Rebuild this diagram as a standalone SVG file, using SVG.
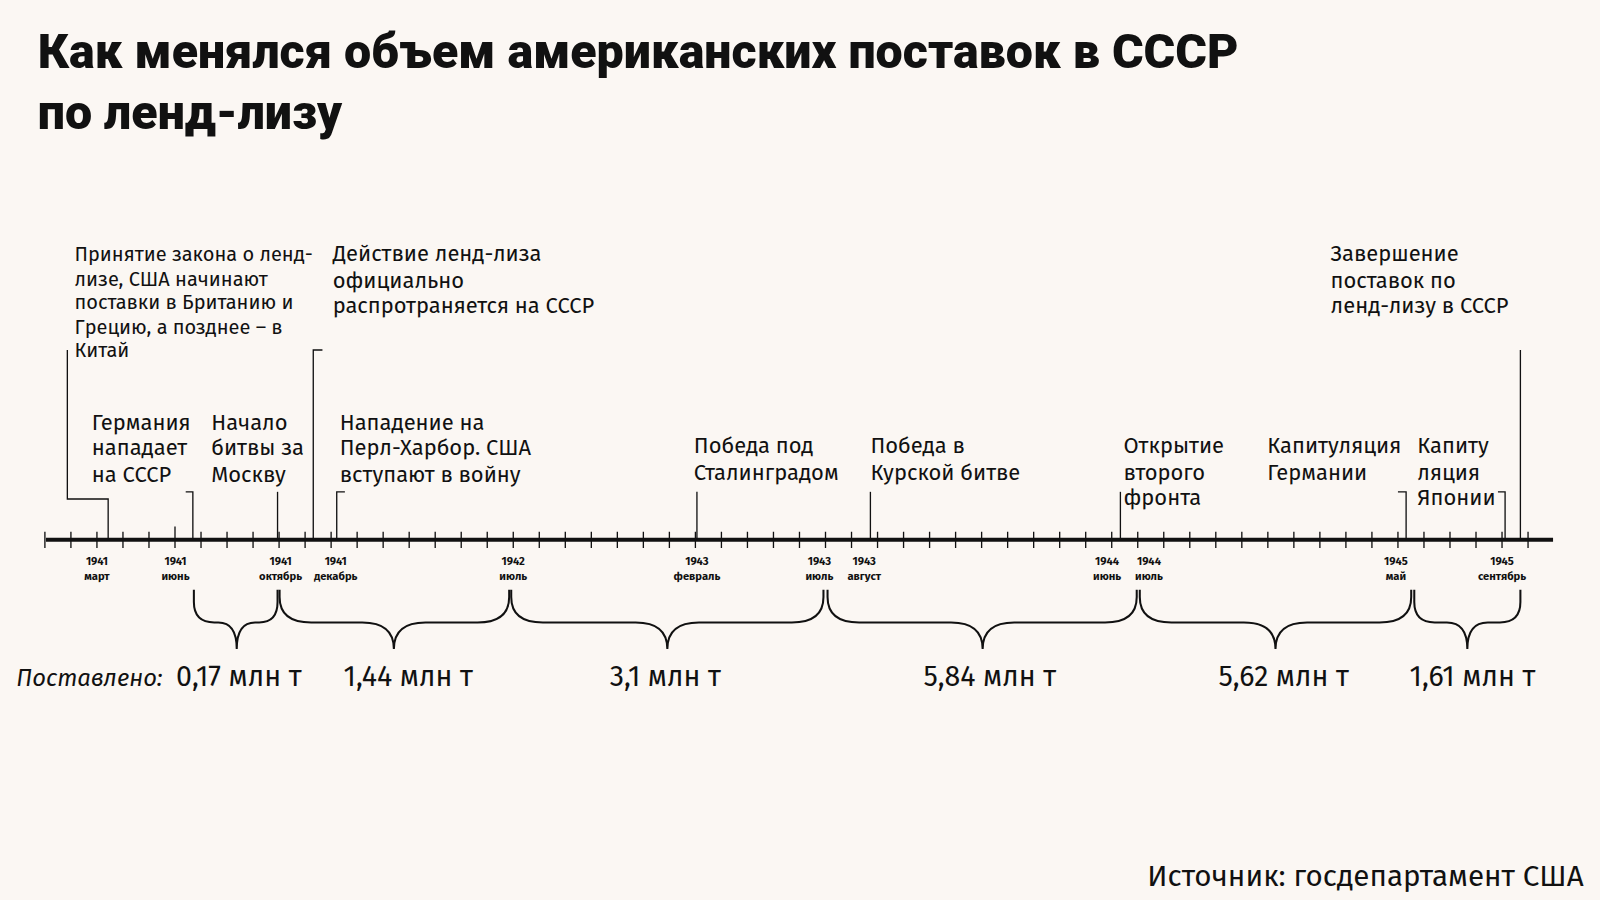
<svg xmlns="http://www.w3.org/2000/svg" width="1600" height="900" viewBox="0 0 1600 900">
<style>
.t{font-family:"Fira Sans","Noto Sans","Open Sans",sans-serif;fill:#111}
.ev{font-size:21.5px}
.sm{font-size:19.6px}
.ax{font-size:11px;font-weight:bold;text-anchor:middle}
.am{font-size:28px;text-anchor:middle}
.ln{stroke:#111;stroke-width:1.3;fill:none}
.br{stroke:#111;stroke-width:2;fill:none}
</style>
<rect width="1600" height="900" fill="#fbf7f3"/>
<g transform="scale(1.0204)">
<g id="title" class="t" style="font-family:Roboto,'Noto Sans',sans-serif;font-weight:900;font-size:47.4px">
<text x="37" y="67">Как менялся объем американских поставок в СССР</text>
<text x="37" y="126">по ленд-лизу</text>
</g>
<g id="axis">
<line x1="45" y1="529" x2="1522" y2="529" stroke="#111" stroke-width="4"/>
<path class="ln" d="M44,521V537M69.5,521V537M95,521V537M120.5,521V537M146,521V537M171.5,516V537M197,521V537M222.5,521V537M248,521V537M273.5,521V537M299,521V537M324.5,521V537M350,521V537M375.5,521V537M401,521V537M426.5,521V537M452,521V537M477.5,521V537M503,521V537M528.5,521V537M554,521V537M579.5,521V537M605,521V537M630.5,521V537M656,521V537M681.5,521V537M707,521V537M732.5,521V537M758,521V537M783.5,521V537M809,521V537M834.5,521V537M860,521V537M885.5,521V537M911,521V537M936.5,521V537M962,521V537M987.5,521V537M1013,521V537M1038.5,521V537M1064,521V537M1089.5,521V537M1115,521V537M1140.5,521V537M1166,521V537M1191.5,521V537M1217,521V537M1242.5,521V537M1268,521V537M1293.5,521V537M1319,521V537M1344.5,521V537M1370,521V537M1395.5,521V537M1421,521V537M1446.5,521V537M1472,521V537M1497.5,521V537"/>
<g class="t ax">
<text x="95" y="554">1941</text><text x="95" y="568">март</text>
<text x="172" y="554">1941</text><text x="172" y="568">июнь</text>
<text x="275" y="554">1941</text><text x="275" y="568">октябрь</text>
<text x="329" y="554">1941</text><text x="329" y="568">декабрь</text>
<text x="503" y="554">1942</text><text x="503" y="568">июль</text>
<text x="683" y="554">1943</text><text x="683" y="568">февраль</text>
<text x="803" y="554">1943</text><text x="803" y="568">июль</text>
<text x="847" y="554">1943</text><text x="847" y="568">август</text>
<text x="1085" y="554">1944</text><text x="1085" y="568">июнь</text>
<text x="1126" y="554">1944</text><text x="1126" y="568">июль</text>
<text x="1368" y="554">1945</text><text x="1368" y="568">май</text>
<text x="1472" y="554">1945</text><text x="1472" y="568">сентябрь</text>
</g>
</g>
<g id="connectors">
<path class="ln" d="M66,343V489H106V529"/>
<path class="ln" d="M182,482H189V529"/>
<path class="ln" d="M272,482V529"/>
<path class="ln" d="M316,343H307V529"/>
<path class="ln" d="M338,482H330V529"/>
<path class="ln" d="M683,482V529"/>
<path class="ln" d="M853,482V529"/>
<path class="ln" d="M1098,482V529"/>
<path class="ln" d="M1370,482H1378V529"/>
<path class="ln" d="M1468,482H1475V529"/>
<path class="ln" d="M1490,343V529"/>
</g>
<g id="braces">
<path class="br" d="M190,578V590Q190,610 210,610H214Q232,610 232,636Q232,610 250,610H254Q272,610 272,590V578"/>
<path class="br" d="M274,578V585Q274,610 305,610H355Q386,610 386,636Q386,610 417,610H468Q499,610 499,585V578"/>
<path class="br" d="M501,578V585Q501,610 532,610H623Q654,610 654,636Q654,610 685,610H776Q807,610 807,585V578"/>
<path class="br" d="M811,578V585Q811,610 842,610H932Q963,610 963,636Q963,610 994,610H1083Q1114,610 1114,585V578"/>
<path class="br" d="M1117,578V585Q1117,610 1148,610H1219Q1250,610 1250,636Q1250,610 1281,610H1352Q1383,610 1383,585V578"/>
<path class="br" d="M1386,578V590Q1386,610 1406,610H1418Q1438,610 1438,636Q1438,610 1458,610H1470Q1490,610 1490,590V578"/>
</g>
<g id="amounts" class="t am">
<text x="16" y="672" style="font-style:italic;font-size:23.3px;text-anchor:start">Поставлено:</text>
<text x="234" y="672">0,17 млн т</text>
<text x="400" y="672">1,44 млн т</text>
<text x="652" y="672">3,1 млн т</text>
<text x="970" y="672">5,84 млн т</text>
<text x="1258" y="672">5,62 млн т</text>
<text x="1443" y="672">1,61 млн т</text>
</g>
<g id="ev-lendlease" class="t sm"><text x="73" y="256">Принятие закона о ленд-</text><text x="73" y="280">лизе, США начинают</text><text x="73" y="303">поставки в Британию и</text><text x="73" y="327">Грецию, а позднее – в</text><text x="73" y="350">Китай</text></g>
<g id="ev-ussr" class="t ev"><text x="326" y="256">Действие ленд-лиза</text><text x="326" y="282">официально</text><text x="326" y="307">распротраняется на СССР</text></g>
<g id="ev-end" class="t ev"><text x="1304" y="256">Завершение</text><text x="1304" y="282">поставок по</text><text x="1304" y="307">ленд-лизу в СССР</text></g>
<g id="ev-attack" class="t ev"><text x="90" y="421">Германия</text><text x="90" y="446">нападает</text><text x="90" y="472">на СССР</text></g>
<g id="ev-moscow" class="t ev"><text x="207" y="421">Начало</text><text x="207" y="446">битвы за</text><text x="207" y="472">Москву</text></g>
<g id="ev-pearl" class="t ev"><text x="333" y="421">Нападение на</text><text x="333" y="446">Перл-Харбор. США</text><text x="333" y="472">вступают в войну</text></g>
<g id="ev-stalingrad" class="t ev"><text x="680" y="444">Победа под</text><text x="680" y="470">Сталинградом</text></g>
<g id="ev-kursk" class="t ev"><text x="853" y="444">Победа в</text><text x="853" y="470">Курской битве</text></g>
<g id="ev-front" class="t ev"><text x="1101" y="444">Открытие</text><text x="1101" y="470">второго</text><text x="1101" y="495">фронта</text></g>
<g id="ev-germany" class="t ev"><text x="1242" y="444">Капитуляция</text><text x="1242" y="470">Германии</text></g>
<g id="ev-japan" class="t ev"><text x="1389" y="444">Капиту</text><text x="1389" y="470">ляция</text><text x="1389" y="495">Японии</text></g>
<text class="t" x="1552" y="868" style="font-size:29px;text-anchor:end">Источник: госдепартамент США</text>
</g>
</svg>
